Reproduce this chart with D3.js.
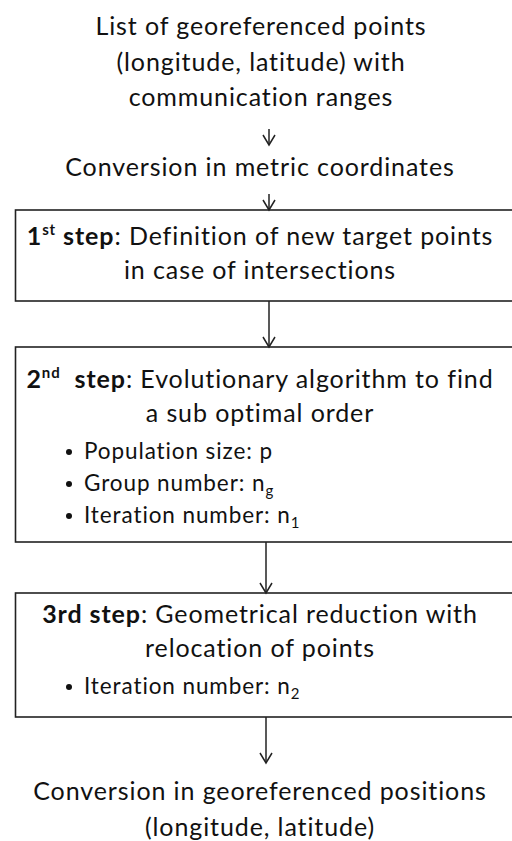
<!DOCTYPE html>
<html>
<head>
<meta charset="utf-8">
<script src="https://cdn.jsdelivr.net/npm/d3@7"></script>
<style>
  body { margin: 0; background: #fff; }
  svg { display: block; }
  text { font-family: Lato, "Open Sans", sans-serif; fill: #111; letter-spacing: 0.9px; }
</style>
</head>
<body>
<div id="chart"></div>
<script>
// Flowchart text
const topLines = ["List of georeferenced points", "(longitude, latitude) with", "communication ranges"];
const metricLine = "Conversion in metric coordinates";
const stepLabels = [["1", "st", " step"], ["2", "nd", "  step"], ["3rd step", "", ""]];
const stepTitles = [
  [": Definition of new target points", "in case of intersections"],
  [": Evolutionary algorithm to find", "a sub optimal order"],
  [": Geometrical reduction with", "relocation of points"]
];
const stepBullets = [
  [],
  [["Population size: p", ""], ["Group number: n", "g"], ["Iteration number: n", "1"]],
  [["Iteration number: n", "2"]]
];
const bottomLines = ["Conversion in georeferenced positions", "(longitude, latitude)"];

const svgWidth = 512, svgHeight = 841;
const fontSize = 25, bulletSize = 22.5;

const svg = d3.select("#chart").append("svg")
  .attr("width", svgWidth)
  .attr("height", svgHeight);

// box geometry
const boxes = [
  { top: 210, bottom: 301 },
  { top: 347, bottom: 542 },
  { top: 593, bottom: 717 }
];
const boxLeft = 15.5, boxRight = 525, textCenter = 260;

// plain text header
svg.selectAll(".top").data(topLines).enter().append("text")
  .attr("x", textCenter + 1)
  .attr("y", (d, i) => 35 + i * 35.5)
  .attr("text-anchor", "middle")
  .style("font-size", fontSize + "px")
  .text(d => d);

svg.append("text")
  .attr("x", textCenter)
  .attr("y", 176)
  .attr("text-anchor", "middle")
  .style("font-size", fontSize + "px")
  .text(metricLine);

// boxes
svg.selectAll(".box").data(boxes).enter().append("rect")
  .attr("x", boxLeft)
  .attr("y", d => d.top)
  .attr("width", boxRight - boxLeft)
  .attr("height", d => d.bottom - d.top)
  .attr("fill", "none")
  .attr("stroke", "#222")
  .attr("stroke-width", 1.6);

const titleBase = [245, 388, 623];
const lineGap = 34;

boxes.forEach((b, i) => {
  const t = svg.append("text")
    .attr("x", textCenter)
    .attr("y", titleBase[i])
    .attr("text-anchor", "middle")
    .style("font-size", fontSize + "px");
  const lab = stepLabels[i];
  t.append("tspan").style("font-weight", "bold").text(lab[0]);
  if (lab[1]) {
    t.append("tspan").style("font-weight", "bold").style("font-size", "15px")
      .attr("dy", -10).text(lab[1]);
    t.append("tspan").style("font-weight", "bold").attr("dy", 10)
      .style("white-space", "pre").text(lab[2]);
  }
  t.append("tspan").text(stepTitles[i][0]);

  svg.append("text")
    .attr("x", textCenter)
    .attr("y", titleBase[i] + lineGap)
    .attr("text-anchor", "middle")
    .style("font-size", fontSize + "px")
    .text(stepTitles[i][1]);

  stepBullets[i].forEach((bl, j) => {
    const y = titleBase[i] + lineGap * 2 + 3 + j * 32;
    svg.append("circle")
      .attr("cx", 69)
      .attr("cy", y - 7)
      .attr("r", 3)
      .attr("fill", "#111");
    const bt = svg.append("text")
      .attr("x", 84)
      .attr("y", y)
      .style("font-size", bulletSize + "px");
    bt.append("tspan").text(bl[0]);
    if (bl[1]) {
      bt.append("tspan").attr("dy", 5).style("font-size", "15px").text(bl[1]);
    }
  });
});

// bottom text
svg.selectAll(".bottom").data(bottomLines).enter().append("text")
  .attr("x", textCenter)
  .attr("y", (d, i) => 800 + i * 36)
  .attr("text-anchor", "middle")
  .style("font-size", fontSize + "px")
  .text(d => d);

// arrows
const arrows = [
  { x: 269, y1: 129, y2: 145 },
  { x: 269, y1: 194, y2: 210 },
  { x: 269, y1: 301, y2: 347 },
  { x: 266, y1: 542, y2: 593 },
  { x: 266, y1: 717, y2: 763 }
];
const ag = svg.append("g").attr("stroke", "#222").attr("stroke-width", 1.5).attr("fill", "none");
arrows.forEach(a => {
  ag.append("line").attr("x1", a.x).attr("x2", a.x).attr("y1", a.y1).attr("y2", a.y2);
  ag.append("path").attr("d", `M${a.x - 6},${a.y2 - 10}L${a.x},${a.y2}L${a.x + 6},${a.y2 - 10}`);
});
</script>
</body>
</html>
